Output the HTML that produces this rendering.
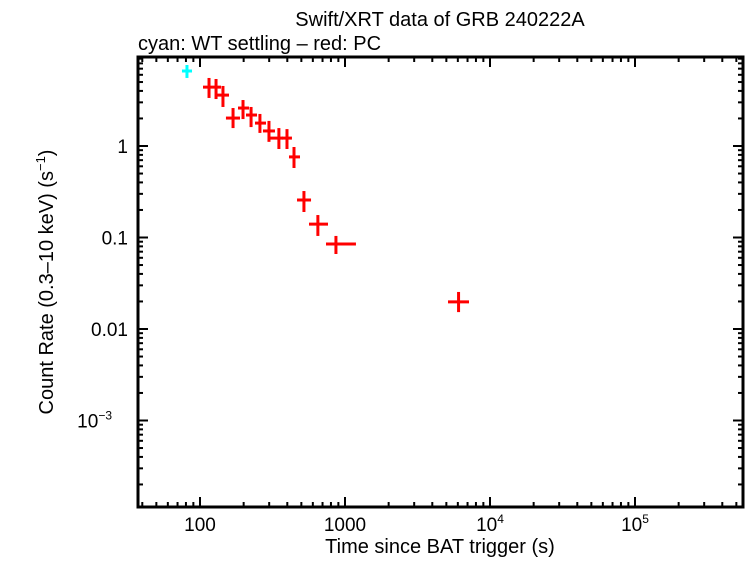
<!DOCTYPE html>
<html><head><meta charset="utf-8"><style>
body{margin:0;background:#fff;}
svg text{font-family:"Liberation Sans",sans-serif;fill:#000;}
</style></head><body>
<svg id="chart" width="746" height="558" viewBox="0 0 746 558" xmlns="http://www.w3.org/2000/svg">
<text x="440" y="26" font-size="20" text-anchor="middle">Swift/XRT data of GRB 240222A</text>
<text x="138" y="50" font-size="20">cyan: WT settling – red: PC</text>
<text transform="translate(53,282) rotate(-90)" font-size="20" text-anchor="middle">Count Rate (0.3–10 keV) (s<tspan font-size="13" dy="-8">−1</tspan><tspan dy="8">)</tspan></text>
<text x="440" y="553" font-size="20" text-anchor="middle">Time since BAT trigger (s)</text>
<g id="ticks"></g>
<g id="marks"></g>
<rect x="138" y="57" width="605" height="450" fill="none" stroke="#000" stroke-width="3"/>
</svg>
<script>
const wtT=[81.3], wtTlo=[75.1], wtThi=[88.1], wtR=[6.6], wtRlo=[5.54], wtRhi=[7.68];
const pcT=[115.4,129,144,169,198,225,259,299,350,398,445,521,650,866,6070];
const pcTlo=[104.9,122.9,131,151,182.8,207.6,239.5,271.8,299,367.8,411,466.8,564.6,739.6,5134];
const pcThi=[122.9,139.6,158.5,188.7,217.8,247.3,285.2,328.9,373.5,430.7,489.4,583.1,763.3,1190,7166];
const pcR=[4.4,4.4,3.6,2.02,2.6,2.18,1.78,1.46,1.22,1.22,0.76,0.257,0.14,0.085,0.0198];
const pcRlo=[3.35,3.26,2.67,1.57,1.97,1.61,1.39,1.11,0.927,0.927,0.575,0.190,0.104,0.066,0.0153];
const pcRhi=[5.54,5.40,4.53,2.60,3.18,2.67,2.24,1.88,1.57,1.53,0.975,0.322,0.176,0.104,0.0254];
const xTickVals=[100,1000,10000,100000];
const xTickLabels=[["100",""],["1000",""],["10","4"],["10","5"]];
const yTickVals=[1,0.1,0.01,0.001];
const yTickLabels=[["1",""],["0.1",""],["0.01",""],["10","−3"]];

const L=138,R=743,T=57,B=507;
const X=v=>200+(Math.log10(v)-2)*145;
const Y=v=>146-Math.log10(v)*91.5;
const NS="http://www.w3.org/2000/svg";
function mk(tag,attrs,parent){const e=document.createElementNS(NS,tag);for(const k in attrs)e.setAttribute(k,attrs[k]);parent.appendChild(e);return e;}
const tg=document.getElementById('ticks'), mg=document.getElementById('marks');
for(let d=1;d<=5;d++)for(let m=1;m<10;m++){const v=m*Math.pow(10,d);const x=X(v);if(x<=L||x>=R)continue;const len=m===1?10:5;
 const a=mk('line',{x1:x,x2:x,y1:B,y2:B-len,stroke:'#000','stroke-width':2},tg);
 
 
 const b=mk('line',{x1:x,x2:x,y1:T,y2:T+len,stroke:'#000','stroke-width':2},tg);
 
 }
for(let d=-4;d<=1;d++)for(let m=1;m<10;m++){const v=m*Math.pow(10,d);const y=Y(v);if(y<=T||y>=B)continue;const len=m===1?10:5;
 const a=mk('line',{x1:L,x2:L+len,y1:y,y2:y,stroke:'#000','stroke-width':2},tg);
 
 
 const b=mk('line',{x1:R,x2:R-len,y1:y,y2:y,stroke:'#000','stroke-width':2},tg);
 
 }
xTickVals.forEach((v,i)=>{const t=mk('text',{x:X(v),y:531,'font-size':19,'text-anchor':'middle'},tg);
 
 
 t.textContent=xTickLabels[i][0];
 if(xTickLabels[i][1]){const s=mk('tspan',{'font-size':12,dy:-8},t);s.textContent=xTickLabels[i][1];}});
yTickVals.forEach((v,i)=>{const t=mk('text',{x:128,y:Y(v)+7,'font-size':19,'text-anchor':'end'},tg);
 
 
 t.textContent=yTickLabels[i][0];
 if(yTickLabels[i][1]){t.setAttribute('x',112);const s=mk('tspan',{'font-size':12,dy:-8},t);s.textContent=yTickLabels[i][1];}});
function pts(T_,Tl,Th,Rv,Rl,Rh,col,name){for(let i=0;i<T_.length;i++){
 const g=mk('g',{},mg);
 
 
 mk('line',{x1:X(Tl[i]),x2:X(Th[i]),y1:Y(Rv[i]),y2:Y(Rv[i]),stroke:col,'stroke-width':3},g);
 mk('line',{x1:X(T_[i]),x2:X(T_[i]),y1:Y(Rl[i]),y2:Y(Rh[i]),stroke:col,'stroke-width':3},g);}}
pts(wtT,wtTlo,wtThi,wtR,wtRlo,wtRhi,'#00ffff','wt-point');
pts(pcT,pcTlo,pcThi,pcR,pcRlo,pcRhi,'#ff0000','pc-point');
</script>
</body></html>
